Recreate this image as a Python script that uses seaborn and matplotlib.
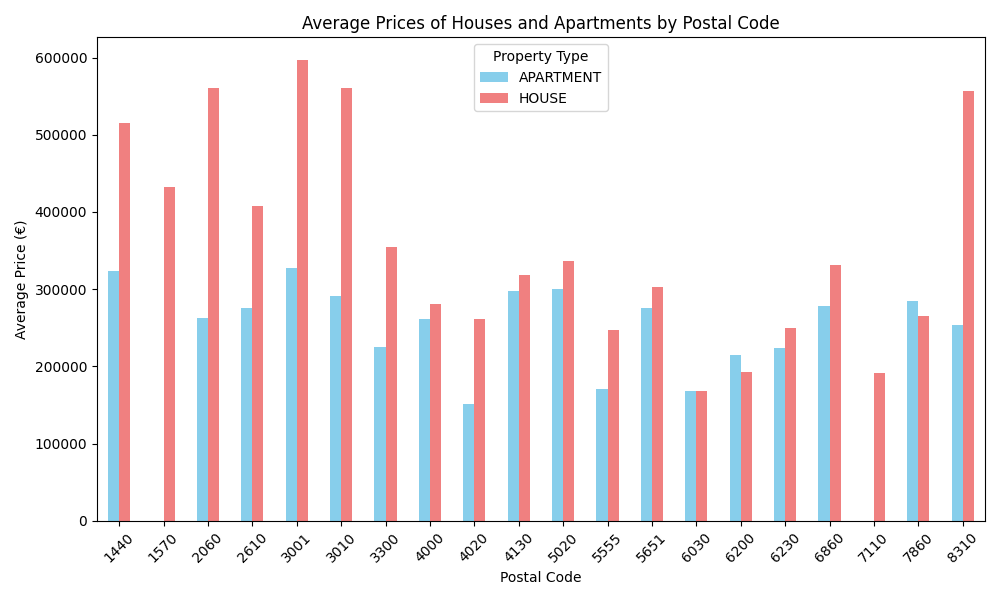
import numpy as np
import pandas as pd
import seaborn as sns
import matplotlib
matplotlib.use("Agg")
import matplotlib.pyplot as plt

# Average price per postal code (NaN = no listings of that type)
postal_codes = ["1440", "1570", "2060", "2610", "3001", "3010", "3300", "4000", "4020", "4130",
                "5020", "5555", "5651", "6030", "6200", "6230", "6860", "7110", "7860", "8310"]
apartment = [323400, np.nan, 262600, 275600, 327300, 291100, 225100, 261300, 151400, 297500,
             300100, 170800, 275600, 168200, 214700, 223800, 278100, np.nan, 284600, 253600]
house = [514900, 432100, 560200, 407500, 596400, 560200, 354500, 280700, 261300, 318200,
         336400, 247100, 302700, 168200, 192800, 249700, 331200, 191500, 265200, 556300]

df = pd.DataFrame({
    "Postal Code": postal_codes * 2,
    "Property Type": ["APARTMENT"] * len(postal_codes) + ["HOUSE"] * len(postal_codes),
    "Price": apartment + house,
})

fig, ax = plt.subplots(figsize=(10, 6), dpi=100)
sns.barplot(data=df, x="Postal Code", y="Price", hue="Property Type",
            palette=["skyblue", "lightcoral"], width=0.5, saturation=1,
            linewidth=0, errorbar=None, ax=ax)

ax.set_title("Average Prices of Houses and Apartments by Postal Code")
ax.set_xlabel("Postal Code")
ax.set_ylabel("Average Price (€)")
ax.tick_params(axis="x", rotation=45)
ax.legend(title="Property Type", loc="upper center")

plt.tight_layout()
plt.savefig("out.png")
